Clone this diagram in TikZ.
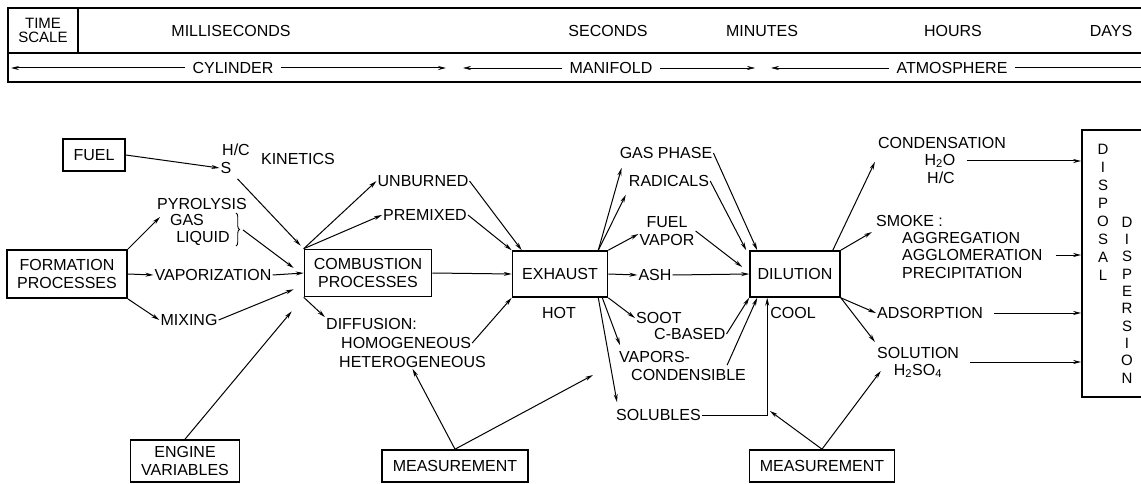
\documentclass[tikz,border=0pt]{standalone}
\usepackage{fontspec}
\setmainfont{Liberation Sans}
\usetikzlibrary{arrows.meta,calc,decorations.pathreplacing}
\begin{document}
\begin{tikzpicture}[x=1pt,y=-1pt,
  every node/.style={font=\fontsize{16}{18}\selectfont, inner sep=1pt, align=center},
  box/.style={draw, line width=1.6pt, inner sep=2pt},
  arr/.style={line width=1pt, -{Stealth[length=8pt,width=4pt]}},
  tarr/.style={line width=0.6pt, -{Stealth[length=8pt,width=4pt]}},
  ln/.style={line width=1pt},
  frame/.style={line width=1.4pt},
  gap/.style={inner xsep=7pt}]
\useasboundingbox (0,0) rectangle (1141,484);
\fill[white] (0,0) rectangle (1141,484);

% ---------- time-scale bar ----------
\draw[frame] (1141,8) -- (8,8) -- (8,82) -- (1141,82);
\draw[frame] (8,53) -- (1141,53);
\draw[frame] (78,8) -- (78,53);
\node[font=\fontsize{15}{14}\selectfont] (ts) at (43,30) {TIME\\SCALE};
\node (ms) at (231,31) {MILLISECONDS};
\node (sec) at (608,31) {SECONDS};
\node (min) at (762,31) {MINUTES};
\node (hrs) at (953,31) {HOURS};
\node (days) at (1111,31) {DAYS};
\node[gap] (cyl) at (233,68) {CYLINDER};
\node[gap] (man) at (611,68) {MANIFOLD};
\node[gap] (atm) at (952,68) {ATMOSPHERE};
\coordinate (cylL) at (11,68);
\coordinate (cylR) at (446,68);
\coordinate (manL) at (463,68);
\coordinate (manR) at (755,68);
\coordinate (atmL) at (771,68);
\coordinate (atmR) at (1141,68);
\draw[arr] (cyl.west) -- (cylL);
\draw[arr] (cyl.east) -- (cylR);
\draw[tarr] (man.west) -- (manL);
\draw[tarr] (man.east) -- (manR);
\draw[tarr] (atm.west) -- (atmL);
\draw[ln] (atm.east) -- (atmR);

% ---------- boxes ----------
\node[box, minimum width=62pt, minimum height=32pt] (fuel) at (94,155) {FUEL};
\node[box, line width=2pt, minimum width=120pt, minimum height=48pt] (form) at (67,274) {FORMATION\\PROCESSES};
\node[box, minimum width=127pt, minimum height=47pt] (comb) at (368,273) {COMBUSTION\\PROCESSES};
\node[box, minimum width=95pt, minimum height=46pt] (exh) at (560,274) {EXHAUST};
\node[box, minimum width=90pt, minimum height=46pt] (dil) at (795,274) {DILUTION};
\node[box, minimum width=109pt, minimum height=42pt] (eng) at (185,461) {ENGINE\\VARIABLES};
\node[box, minimum width=146pt, minimum height=32pt] (meas1) at (455,466) {MEASUREMENT};
\node[box, minimum width=145pt, minimum height=32pt] (meas2) at (822,466) {MEASUREMENT};
\node[draw, line width=1.6pt, minimum width=118pt, minimum height=267pt] (disp) at (1141,263.5) {};
\node[font=\fontsize{15}{18}\selectfont] (dispo) at (1103,212) {D\\I\\S\\P\\O\\S\\A\\L};
\node[font=\fontsize{15}{17.3}\selectfont] (dispe) at (1127,300) {D\\I\\S\\P\\E\\R\\S\\I\\O\\N};

% ---------- labels ----------
\node (hc) at (236,150) {H/C};
\node (s) at (226,168) {S};
\node (kin) at (298,159) {KINETICS};
\node (pyro) at (202,204) {PYROLYSIS};
\node (gas) at (187,220) {GAS};
\node (liq) at (203,238) {LIQUID};
\node (vap) at (213,275) {VAPORIZATION};
\node (mix) at (189,320) {MIXING};
\node (unb) at (423,181) {UNBURNED};
\node (prem) at (425,215) {PREMIXED};
\node[anchor=west] (diff) at (325,324) {DIFFUSION:};
\node[anchor=west] (homo) at (340,343) {HOMOGENEOUS};
\node[anchor=west] (hetero) at (338,362) {HETEROGENEOUS};
\node (hot) at (559,313) {HOT};
\node (gasph) at (666,153) {GAS PHASE};
\node (rad) at (669,181) {RADICALS};
\node (fuelv) at (667,231) {FUEL\\VAPOR};
\node (ash) at (655,275) {ASH};
\node[anchor=west] (soot) at (635,318) {SOOT};
\node[anchor=west] (cbased) at (653,334) {C-BASED};
\node[anchor=west] (vapors) at (618,357) {VAPORS-};
\node[anchor=west] (cond) at (630,375) {CONDENSIBLE};
\node[anchor=west] (solub) at (615,415) {SOLUBLES};
\node (cool) at (793,313) {COOL};
\node (condens) at (942,143) {CONDENSATION};
\node (h2o) at (940,161) {H\textsubscript{2}O};
\node (hc2) at (941,178) {H/C};
\node[anchor=west] (smoke) at (875,221) {SMOKE :};
\node[anchor=west] (aggr) at (901,238) {AGGREGATION};
\node[anchor=west] (agglo) at (901,255) {AGGLOMERATION};
\node[anchor=west] (precip) at (901,273) {PRECIPITATION};
\node[anchor=west] (adsorp) at (876,313) {ADSORPTION};
\node[anchor=west] (solut) at (876,353) {SOLUTION};
\node (h2so4) at (918,371) {H\textsubscript{2}SO\textsubscript{4}};

% brace
\coordinate (b1) at (236,213);
\coordinate (b2) at (236,246);
\coordinate (bt) at (243,230);
\draw[decorate,decoration={brace,amplitude=3.5pt},line width=0.9pt] (b1) -- (b2);

% free ends
\coordinate (p1) at (160,217);
\coordinate (m1r) at (593,375);
\coordinate (m2l) at (770,411);

% ---------- connectors ----------
\draw[arr] (fuel.east) -- (s.west);
\draw[arr] (form.north east) -- (p1);
\draw[arr] (form.east) -- (vap.west);
\draw[arr] (form.south east) -- (mix.west);
\draw[arr] (vap.east) -- (comb.west);
\draw[arr] (bt) -- ($(comb.west)+(-10,-5)$);
\draw[arr] (mix.east) -- ($(comb.south west)+(-10,-8)$);
\draw[arr] ($(s.south east)+(5,4)$) -- ($(comb.north west)+(-3,-3)$);
\draw[arr] (eng.north) -- ($(comb.south west)+(-12,14)$);
\draw[arr] (comb.north west) -- (unb.west);
\draw[arr] (comb.north west) -- (prem.west);
\draw[arr] (comb.south west) -- (diff.north west);
\draw[arr] (unb.east) -- ($(exh.north west)+(10,0)$);
\draw[arr] (prem.east) -- (exh.north west);
\draw[arr] (comb.east) -- (exh.west);
\draw[arr] (homo.east) -- (exh.south west);
\draw[arr] (meas1.north) -- (hetero.south);
\draw[arr] (meas1.north) -- (m1r);

\draw[arr] ($(exh.north east)+(-10,0)$) -- ($(gasph.south west)+(3,8)$);
\draw[arr] ($(exh.north east)+(-10,0)$) -- ($(rad.south west)+(-2,7)$);
\draw[arr] (exh.north east) -- ($(fuelv.west)+(0,3)$);
\draw[arr] (exh.east) -- (ash.west);
\draw[arr] (ash.east) -- (dil.west);
\draw[arr] (exh.south east) -- (soot.west);
\draw[arr] ($(exh.south east)+(-6,0)$) -- ($(vapors.north west)+(2,-5)$);
\draw[arr] ($(exh.south east)+(-10,0)$) -- ($(solub.north west)+(2,-6)$);
\draw[arr] (gasph.east) -- ($(dil.north west)+(8,0)$);
\draw[arr] (rad.east) -- ($(dil.north west)+(-3,0)$);
\draw[arr] (fuelv.east) -- ($(dil.west)+(-7,-7)$);
\draw[arr] (cbased.east) -- (dil.south west);
\draw[arr] ($(cond.north east)+(-20,-3)$) -- ($(dil.south west)+(8,0)$);
\draw[arr] (solub.east) -| ($(dil.south west)+(18,0)$);
\draw[arr] (meas2.north) -- (m2l);
\draw[arr] (meas2.north) -- ($(h2so4.west)+(-12,0)$);

\draw[arr] ($(dil.north east)+(-8,0)$) -- ($(condens.south west)+(-2,12)$);
\draw[arr] (dil.north east) -- ($(aggr.west)+(-29,-6)$);
\draw[arr] (dil.south east) -- (adsorp.west);
\draw[arr] (dil.south east) -- ($(solut.west)+(-1,-11)$);
\draw[arr] ($(h2o.east)+(10,0)$) -- (h2o.east -| disp.west);
\draw[arr] ($(agglo.east)+(12,0)$) -- (agglo.east -| disp.west);
\draw[arr] ($(adsorp.east)+(10,0)$) -- (adsorp.east -| disp.west);
\coordinate (sl) at ($(solut.east)+(10,9)$);
\draw[arr] (sl) -- (sl -| disp.west);
\end{tikzpicture}
\end{document}
